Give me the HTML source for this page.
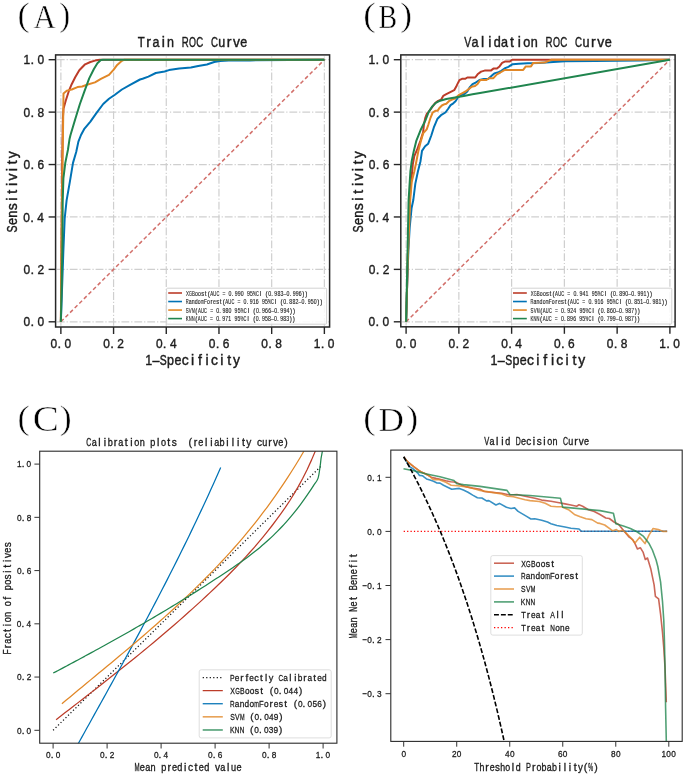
<!DOCTYPE html>
<html><head><meta charset="utf-8"><style>html,body{margin:0;padding:0;background:#fff;}svg{display:block;will-change:transform;}</style></head><body>
<svg width="685" height="776" viewBox="0 0 685 776" font-family='"Liberation Sans", sans-serif' style="font-variant-ligatures:none">
<rect width="685" height="776" fill="#fff"/>
<text transform="translate(17.59,26.1) scale(1.061,0.994)" font-family='"Liberation Serif", serif' font-size="34.5" fill="#000" stroke="#fff" stroke-width="0.5" paint-order="fill">(</text>
<text transform="translate(33.5,28.4) scale(0.896,0.970)" font-family='"Liberation Serif", serif' font-size="34.5" fill="#000" stroke="#fff" stroke-width="0.5" paint-order="fill">A</text>
<text transform="translate(59.23,26.1) scale(0.959,0.994)" font-family='"Liberation Serif", serif' font-size="34.5" fill="#000" stroke="#fff" stroke-width="0.5" paint-order="fill">)</text>
<clipPath id="c55"><rect x="55.6" y="54.9" width="274" height="272.1"/></clipPath>
<path d="M60.87 327 V54.9" stroke="#cfcfcf" stroke-width="1.2" stroke-dasharray="7.8 1.95 1.22 1.95" stroke-dashoffset="-1.25"/>
<path d="M55.6 321.8 H329.6" stroke="#cfcfcf" stroke-width="1.2" stroke-dasharray="7.8 1.95 1.22 1.95" stroke-dashoffset="-1.25"/>
<path d="M113.57 327 V54.9" stroke="#cfcfcf" stroke-width="1.2" stroke-dasharray="7.8 1.95 1.22 1.95" stroke-dashoffset="-1.25"/>
<path d="M55.6 269.38 H329.6" stroke="#cfcfcf" stroke-width="1.2" stroke-dasharray="7.8 1.95 1.22 1.95" stroke-dashoffset="-1.25"/>
<path d="M166.27 327 V54.9" stroke="#cfcfcf" stroke-width="1.2" stroke-dasharray="7.8 1.95 1.22 1.95" stroke-dashoffset="-1.25"/>
<path d="M55.6 216.96 H329.6" stroke="#cfcfcf" stroke-width="1.2" stroke-dasharray="7.8 1.95 1.22 1.95" stroke-dashoffset="-1.25"/>
<path d="M218.97 327 V54.9" stroke="#cfcfcf" stroke-width="1.2" stroke-dasharray="7.8 1.95 1.22 1.95" stroke-dashoffset="-1.25"/>
<path d="M55.6 164.54 H329.6" stroke="#cfcfcf" stroke-width="1.2" stroke-dasharray="7.8 1.95 1.22 1.95" stroke-dashoffset="-1.25"/>
<path d="M271.67 327 V54.9" stroke="#cfcfcf" stroke-width="1.2" stroke-dasharray="7.8 1.95 1.22 1.95" stroke-dashoffset="-1.25"/>
<path d="M55.6 112.12 H329.6" stroke="#cfcfcf" stroke-width="1.2" stroke-dasharray="7.8 1.95 1.22 1.95" stroke-dashoffset="-1.25"/>
<path d="M324.37 327 V54.9" stroke="#cfcfcf" stroke-width="1.2" stroke-dasharray="7.8 1.95 1.22 1.95" stroke-dashoffset="-1.25"/>
<path d="M55.6 59.7 H329.6" stroke="#cfcfcf" stroke-width="1.2" stroke-dasharray="7.8 1.95 1.22 1.95" stroke-dashoffset="-1.25"/>
<g clip-path="url(#c55)">
<path d="M60.87 321.8 L324.37 59.7" stroke="#D26F6A" stroke-width="1.5" stroke-dasharray="3.9 2.6" fill="none"/>
<path d="M60.87 321.8 L61.4 260 L62.2 160 L62.9 118 L63.5 108.7 L65.8 100.5 L68.8 91.2 L71.7 84.2 L75.2 77.2 L79.3 70.2 L85.1 64.3 L90.4 62 L95 60.6 L99.7 59.8 L324.4 59.8" fill="none" stroke="#BC3C29" stroke-width="2" stroke-linejoin="round" stroke-linecap="butt" />
<path d="M60.87 321.8 L62 290 L63.4 250 L64.7 218.3 L66.6 200.3 L69.8 182.2 L73 162.9 L76.2 152 L78.4 141.6 L81 135 L84.5 128.6 L90.4 121.6 L96.2 113.4 L103.2 104 L109 98.8 L114.9 94.7 L121.9 89.5 L130.1 84.8 L140 79.5 L142.6 78.8 L148.4 76.6 L155.8 73 L164.6 71.5 L169 70.1 L179.2 68.6 L190.9 67.6 L198.2 66 L206.9 64.5 L214.2 62 L220 61 L228.8 60.6 L250 60.4 L290 60.1 L324.4 59.8" fill="none" stroke="#0072B5" stroke-width="2" stroke-linejoin="round" stroke-linecap="butt" />
<path d="M60.87 321.8 L61.6 240 L62.6 160 L63.3 110 L63.5 93.5 L67 90.6 L71.7 89.5 L77.5 87.1 L82.2 86.5 L86.9 84.8 L95 82.4 L100.9 78.9 L109 74.9 L113.7 69.6 L117.2 64.9 L121.9 60.8 L124 59.8 L324.4 59.8" fill="none" stroke="#E18727" stroke-width="2" stroke-linejoin="round" stroke-linecap="butt" />
<path d="M60.87 321.8 L61.8 280 L62.5 240 L62.7 201.5 L63.4 178.4 L65.3 162.9 L67.9 150 L69.6 138.7 L70.5 135 L75.2 119.2 L79.9 104 L84.5 91.2 L89.2 78.4 L93.9 69 L97.4 63.2 L100.9 60.1 L103 59.8 L324.4 59.8" fill="none" stroke="#20854E" stroke-width="2" stroke-linejoin="round" stroke-linecap="butt" />
</g>
<rect x="166.6" y="288.2" width="160" height="36" rx="1" fill="#fff" fill-opacity="0.85" stroke="#d2d2d2" stroke-width="1.0"/>
<path d="M168.2 293 H182" stroke="#BC3C29" stroke-width="1.6"/>
<g fill="#2a2a2a" stroke="#2a2a2a" stroke-width="0.15" font-size="6.3"><text x="204.78 207.65 231.56 259.68 265.6 271.21 289.51 302.2 305.25" y="295.7">t(.I(..))</text><text transform="translate(185.9,295.7) scale(0.690,1)">X</text><text transform="translate(188.95,295.7) scale(0.591,1)">G</text><text transform="translate(192,295.7) scale(0.690,1)">B</text><text transform="translate(195.05,295.7) scale(0.827,1)">o</text><text transform="translate(198.1,295.7) scale(0.827,1)">o</text><text transform="translate(201.15,295.7) scale(0.920,1)">s</text><text transform="translate(210.3,295.7) scale(0.690,1)">A</text><text transform="translate(213.35,295.7) scale(0.637,1)">U</text><text transform="translate(216.4,295.7) scale(0.637,1)">C</text><text transform="translate(222.5,295.7) scale(0.788,1)">=</text><text transform="translate(228.6,295.7) scale(0.827,1)">0</text><text transform="translate(234.7,295.7) scale(0.827,1)">9</text><text transform="translate(237.75,295.7) scale(0.827,1)">9</text><text transform="translate(240.8,295.7) scale(0.827,1)">0</text><text transform="translate(246.9,295.7) scale(0.827,1)">9</text><text transform="translate(249.95,295.7) scale(0.827,1)">5</text><text transform="translate(253,295.7) scale(0.517,1)">%</text><text transform="translate(256.05,295.7) scale(0.637,1)">C</text><text transform="translate(268.25,295.7) scale(0.827,1)">0</text><text transform="translate(274.35,295.7) scale(0.827,1)">9</text><text transform="translate(277.4,295.7) scale(0.827,1)">8</text><text transform="translate(280.45,295.7) scale(0.827,1)">3</text><text transform="translate(283.5,295.7) scale(0.827,1)">–</text><text transform="translate(286.55,295.7) scale(0.827,1)">0</text><text transform="translate(292.65,295.7) scale(0.827,1)">9</text><text transform="translate(295.7,295.7) scale(0.827,1)">9</text><text transform="translate(298.75,295.7) scale(0.827,1)">6</text></g>
<path d="M168.2 301.53 H182" stroke="#0072B5" stroke-width="1.6"/>
<g fill="#2a2a2a" stroke="#2a2a2a" stroke-width="0.15" font-size="6.3"><text x="210.47 219.79 222.67 246.57 274.69 280.62 286.22 304.52 317.22 320.27" y="304.23">rt(.I(..))</text><text transform="translate(185.67,304.23) scale(0.637,1)">R</text><text transform="translate(188.72,304.23) scale(0.827,1)">a</text><text transform="translate(191.77,304.23) scale(0.827,1)">n</text><text transform="translate(194.82,304.23) scale(0.827,1)">d</text><text transform="translate(197.87,304.23) scale(0.827,1)">o</text><text transform="translate(200.92,304.23) scale(0.552,1)">m</text><text transform="translate(203.97,304.23) scale(0.753,1)">F</text><text transform="translate(207.02,304.23) scale(0.827,1)">o</text><text transform="translate(213.12,304.23) scale(0.827,1)">e</text><text transform="translate(216.17,304.23) scale(0.920,1)">s</text><text transform="translate(225.32,304.23) scale(0.690,1)">A</text><text transform="translate(228.37,304.23) scale(0.637,1)">U</text><text transform="translate(231.42,304.23) scale(0.637,1)">C</text><text transform="translate(237.52,304.23) scale(0.788,1)">=</text><text transform="translate(243.62,304.23) scale(0.827,1)">0</text><text transform="translate(249.72,304.23) scale(0.827,1)">9</text><text transform="translate(252.77,304.23) scale(0.827,1)">1</text><text transform="translate(255.82,304.23) scale(0.827,1)">6</text><text transform="translate(261.92,304.23) scale(0.827,1)">9</text><text transform="translate(264.97,304.23) scale(0.827,1)">5</text><text transform="translate(268.02,304.23) scale(0.517,1)">%</text><text transform="translate(271.07,304.23) scale(0.637,1)">C</text><text transform="translate(283.27,304.23) scale(0.827,1)">0</text><text transform="translate(289.37,304.23) scale(0.827,1)">8</text><text transform="translate(292.42,304.23) scale(0.827,1)">8</text><text transform="translate(295.47,304.23) scale(0.827,1)">2</text><text transform="translate(298.52,304.23) scale(0.827,1)">–</text><text transform="translate(301.57,304.23) scale(0.827,1)">0</text><text transform="translate(307.67,304.23) scale(0.827,1)">9</text><text transform="translate(310.72,304.23) scale(0.827,1)">5</text><text transform="translate(313.77,304.23) scale(0.827,1)">0</text></g>
<path d="M168.2 310.06 H182" stroke="#E18727" stroke-width="1.6"/>
<g fill="#2a2a2a" stroke="#2a2a2a" stroke-width="0.15" font-size="6.3"><text x="195.35 219.26 247.38 253.3 258.91 277.21 289.9 292.95" y="312.76">(.I(..))</text><text transform="translate(185.8,312.76) scale(0.690,1)">S</text><text transform="translate(188.85,312.76) scale(0.690,1)">V</text><text transform="translate(191.9,312.76) scale(0.552,1)">M</text><text transform="translate(198,312.76) scale(0.690,1)">A</text><text transform="translate(201.05,312.76) scale(0.637,1)">U</text><text transform="translate(204.1,312.76) scale(0.637,1)">C</text><text transform="translate(210.2,312.76) scale(0.788,1)">=</text><text transform="translate(216.3,312.76) scale(0.827,1)">0</text><text transform="translate(222.4,312.76) scale(0.827,1)">9</text><text transform="translate(225.45,312.76) scale(0.827,1)">8</text><text transform="translate(228.5,312.76) scale(0.827,1)">0</text><text transform="translate(234.6,312.76) scale(0.827,1)">9</text><text transform="translate(237.65,312.76) scale(0.827,1)">5</text><text transform="translate(240.7,312.76) scale(0.517,1)">%</text><text transform="translate(243.75,312.76) scale(0.637,1)">C</text><text transform="translate(255.95,312.76) scale(0.827,1)">0</text><text transform="translate(262.05,312.76) scale(0.827,1)">9</text><text transform="translate(265.1,312.76) scale(0.827,1)">6</text><text transform="translate(268.15,312.76) scale(0.827,1)">6</text><text transform="translate(271.2,312.76) scale(0.827,1)">–</text><text transform="translate(274.25,312.76) scale(0.827,1)">0</text><text transform="translate(280.35,312.76) scale(0.827,1)">9</text><text transform="translate(283.4,312.76) scale(0.827,1)">9</text><text transform="translate(286.45,312.76) scale(0.827,1)">4</text></g>
<path d="M168.2 318.59 H182" stroke="#20854E" stroke-width="1.6"/>
<g fill="#2a2a2a" stroke="#2a2a2a" stroke-width="0.15" font-size="6.3"><text x="195.19 219.1 247.22 253.14 258.75 277.05 289.74 292.79" y="321.29">(.I(..))</text><text transform="translate(185.64,321.29) scale(0.690,1)">K</text><text transform="translate(188.69,321.29) scale(0.637,1)">N</text><text transform="translate(191.74,321.29) scale(0.637,1)">N</text><text transform="translate(197.84,321.29) scale(0.690,1)">A</text><text transform="translate(200.89,321.29) scale(0.637,1)">U</text><text transform="translate(203.94,321.29) scale(0.637,1)">C</text><text transform="translate(210.04,321.29) scale(0.788,1)">=</text><text transform="translate(216.14,321.29) scale(0.827,1)">0</text><text transform="translate(222.24,321.29) scale(0.827,1)">9</text><text transform="translate(225.29,321.29) scale(0.827,1)">7</text><text transform="translate(228.34,321.29) scale(0.827,1)">1</text><text transform="translate(234.44,321.29) scale(0.827,1)">9</text><text transform="translate(237.49,321.29) scale(0.827,1)">5</text><text transform="translate(240.54,321.29) scale(0.517,1)">%</text><text transform="translate(243.59,321.29) scale(0.637,1)">C</text><text transform="translate(255.79,321.29) scale(0.827,1)">0</text><text transform="translate(261.89,321.29) scale(0.827,1)">9</text><text transform="translate(264.94,321.29) scale(0.827,1)">5</text><text transform="translate(267.99,321.29) scale(0.827,1)">8</text><text transform="translate(271.04,321.29) scale(0.827,1)">–</text><text transform="translate(274.09,321.29) scale(0.827,1)">0</text><text transform="translate(280.19,321.29) scale(0.827,1)">9</text><text transform="translate(283.24,321.29) scale(0.827,1)">8</text><text transform="translate(286.29,321.29) scale(0.827,1)">3</text></g>
<rect x="55.6" y="54.9" width="274" height="272.1" fill="none" stroke="#262626" stroke-width="1.5"/>
<path d="M60.87 327 V334" stroke="#262626" stroke-width="1.4"/>
<path d="M55.6 321.8 H48.6" stroke="#262626" stroke-width="1.4"/>
<g fill="#1c1c1c" stroke="#1c1c1c" stroke-width="0.39" font-size="13.1"><text x="30.38" y="326.4">.</text><text transform="translate(23.42,326.4) scale(0.913,1)">0</text><text transform="translate(37.42,326.4) scale(0.913,1)">0</text></g>
<g fill="#1c1c1c" stroke="#1c1c1c" stroke-width="0.39" font-size="13.1"><text x="57.51" y="348.3">.</text><text transform="translate(50.54,348.3) scale(0.913,1)">0</text><text transform="translate(64.55,348.3) scale(0.913,1)">0</text></g>
<path d="M113.57 327 V334" stroke="#262626" stroke-width="1.4"/>
<path d="M55.6 269.38 H48.6" stroke="#262626" stroke-width="1.4"/>
<g fill="#1c1c1c" stroke="#1c1c1c" stroke-width="0.39" font-size="13.1"><text x="30.52" y="273.98">.</text><text transform="translate(23.55,273.98) scale(0.913,1)">0</text><text transform="translate(37.55,273.98) scale(0.913,1)">2</text></g>
<g fill="#1c1c1c" stroke="#1c1c1c" stroke-width="0.39" font-size="13.1"><text x="110.28" y="348.3">.</text><text transform="translate(103.31,348.3) scale(0.913,1)">0</text><text transform="translate(117.31,348.3) scale(0.913,1)">2</text></g>
<path d="M166.27 327 V334" stroke="#262626" stroke-width="1.4"/>
<path d="M55.6 216.96 H48.6" stroke="#262626" stroke-width="1.4"/>
<g fill="#1c1c1c" stroke="#1c1c1c" stroke-width="0.39" font-size="13.1"><text x="30.27" y="221.56">.</text><text transform="translate(23.3,221.56) scale(0.913,1)">0</text><text transform="translate(37.3,221.56) scale(0.913,1)">4</text></g>
<g fill="#1c1c1c" stroke="#1c1c1c" stroke-width="0.39" font-size="13.1"><text x="162.85" y="348.3">.</text><text transform="translate(155.89,348.3) scale(0.913,1)">0</text><text transform="translate(169.89,348.3) scale(0.913,1)">4</text></g>
<path d="M218.97 327 V334" stroke="#262626" stroke-width="1.4"/>
<path d="M55.6 164.54 H48.6" stroke="#262626" stroke-width="1.4"/>
<g fill="#1c1c1c" stroke="#1c1c1c" stroke-width="0.39" font-size="13.1"><text x="30.44" y="169.14">.</text><text transform="translate(23.48,169.14) scale(0.913,1)">0</text><text transform="translate(37.48,169.14) scale(0.913,1)">6</text></g>
<g fill="#1c1c1c" stroke="#1c1c1c" stroke-width="0.39" font-size="13.1"><text x="215.64" y="348.3">.</text><text transform="translate(208.67,348.3) scale(0.913,1)">0</text><text transform="translate(222.67,348.3) scale(0.913,1)">6</text></g>
<path d="M271.67 327 V334" stroke="#262626" stroke-width="1.4"/>
<path d="M55.6 112.12 H48.6" stroke="#262626" stroke-width="1.4"/>
<g fill="#1c1c1c" stroke="#1c1c1c" stroke-width="0.39" font-size="13.1"><text x="30.43" y="116.72">.</text><text transform="translate(23.47,116.72) scale(0.913,1)">0</text><text transform="translate(37.47,116.72) scale(0.913,1)">8</text></g>
<g fill="#1c1c1c" stroke="#1c1c1c" stroke-width="0.39" font-size="13.1"><text x="268.34" y="348.3">.</text><text transform="translate(261.37,348.3) scale(0.913,1)">0</text><text transform="translate(275.37,348.3) scale(0.913,1)">8</text></g>
<path d="M324.37 327 V334" stroke="#262626" stroke-width="1.4"/>
<path d="M55.6 59.7 H48.6" stroke="#262626" stroke-width="1.4"/>
<g fill="#1c1c1c" stroke="#1c1c1c" stroke-width="0.39" font-size="13.1"><text x="30.38" y="64.3">.</text><text transform="translate(23.42,64.3) scale(0.913,1)">1</text><text transform="translate(37.42,64.3) scale(0.913,1)">0</text></g>
<g fill="#1c1c1c" stroke="#1c1c1c" stroke-width="0.39" font-size="13.1"><text x="320.79" y="348.3">.</text><text transform="translate(313.82,348.3) scale(0.913,1)">1</text><text transform="translate(327.82,348.3) scale(0.913,1)">0</text></g>
<g fill="#1c1c1c" stroke="#1c1c1c" stroke-width="0.42" font-size="14.1"><text x="146.2 161.63 226.78" y="46.7">rir</text><text transform="translate(137.74,46.7) scale(0.808,1)">T</text><text transform="translate(152.39,46.7) scale(0.887,1)">a</text><text transform="translate(167.04,46.7) scale(0.887,1)">n</text><text transform="translate(181.7,46.7) scale(0.683,1)">R</text><text transform="translate(189.02,46.7) scale(0.635,1)">O</text><text transform="translate(196.35,46.7) scale(0.683,1)">C</text><text transform="translate(211,46.7) scale(0.683,1)">C</text><text transform="translate(218.32,46.7) scale(0.887,1)">u</text><text transform="translate(232.97,46.7) scale(0.987,1)">v</text><text transform="translate(240.3,46.7) scale(0.887,1)">e</text></g>
<g fill="#1c1c1c" stroke="#1c1c1c" stroke-width="0.42" font-size="14.1"><text x="190.97 197.9 205.61 220.25 227.17" y="364.6">ifiit</text><text transform="translate(145.15,364.6) scale(0.887,1)">1</text><text transform="translate(152.47,364.6) scale(0.887,1)">–</text><text transform="translate(159.79,364.6) scale(0.739,1)">S</text><text transform="translate(167.1,364.6) scale(0.887,1)">p</text><text transform="translate(174.42,364.6) scale(0.887,1)">e</text><text transform="translate(181.74,364.6) scale(0.986,1)">c</text><text transform="translate(211.02,364.6) scale(0.986,1)">c</text><text transform="translate(232.97,364.6) scale(0.986,1)">y</text></g>
<g transform="translate(17.4,0) rotate(-90)" fill="#1c1c1c" stroke="#1c1c1c" stroke-width="0.42" font-size="14.1"><text x="-200.86 -193.83 -186.03 -171.19 -164.17" y="0">itiit</text><text transform="translate(-232.48,0) scale(0.749,1)">S</text><text transform="translate(-225.06,0) scale(0.898,1)">e</text><text transform="translate(-217.65,0) scale(0.898,1)">n</text><text transform="translate(-210.23,0) scale(0.999,1)">s</text><text transform="translate(-180.57,0) scale(0.999,1)">v</text><text transform="translate(-158.32,0) scale(0.999,1)">y</text></g>
<text transform="translate(363.16,26.1) scale(1.083,0.994)" font-family='"Liberation Serif", serif' font-size="34.5" fill="#000" stroke="#fff" stroke-width="0.5" paint-order="fill">(</text>
<text transform="translate(378.59,28.3) scale(0.811,0.987)" font-family='"Liberation Serif", serif' font-size="34.5" fill="#000" stroke="#fff" stroke-width="0.5" paint-order="fill">B</text>
<text transform="translate(400.36,26.1) scale(1.027,0.994)" font-family='"Liberation Serif", serif' font-size="34.5" fill="#000" stroke="#fff" stroke-width="0.5" paint-order="fill">)</text>
<clipPath id="c400"><rect x="400.8" y="54.9" width="274.3" height="271.9"/></clipPath>
<path d="M406.1 326.8 V54.9" stroke="#cfcfcf" stroke-width="1.2" stroke-dasharray="7.8 1.95 1.22 1.95" stroke-dashoffset="-1.25"/>
<path d="M400.8 321.8 H675.1" stroke="#cfcfcf" stroke-width="1.2" stroke-dasharray="7.8 1.95 1.22 1.95" stroke-dashoffset="-1.25"/>
<path d="M458.86 326.8 V54.9" stroke="#cfcfcf" stroke-width="1.2" stroke-dasharray="7.8 1.95 1.22 1.95" stroke-dashoffset="-1.25"/>
<path d="M400.8 269.38 H675.1" stroke="#cfcfcf" stroke-width="1.2" stroke-dasharray="7.8 1.95 1.22 1.95" stroke-dashoffset="-1.25"/>
<path d="M511.62 326.8 V54.9" stroke="#cfcfcf" stroke-width="1.2" stroke-dasharray="7.8 1.95 1.22 1.95" stroke-dashoffset="-1.25"/>
<path d="M400.8 216.96 H675.1" stroke="#cfcfcf" stroke-width="1.2" stroke-dasharray="7.8 1.95 1.22 1.95" stroke-dashoffset="-1.25"/>
<path d="M564.38 326.8 V54.9" stroke="#cfcfcf" stroke-width="1.2" stroke-dasharray="7.8 1.95 1.22 1.95" stroke-dashoffset="-1.25"/>
<path d="M400.8 164.54 H675.1" stroke="#cfcfcf" stroke-width="1.2" stroke-dasharray="7.8 1.95 1.22 1.95" stroke-dashoffset="-1.25"/>
<path d="M617.14 326.8 V54.9" stroke="#cfcfcf" stroke-width="1.2" stroke-dasharray="7.8 1.95 1.22 1.95" stroke-dashoffset="-1.25"/>
<path d="M400.8 112.12 H675.1" stroke="#cfcfcf" stroke-width="1.2" stroke-dasharray="7.8 1.95 1.22 1.95" stroke-dashoffset="-1.25"/>
<path d="M669.9 326.8 V54.9" stroke="#cfcfcf" stroke-width="1.2" stroke-dasharray="7.8 1.95 1.22 1.95" stroke-dashoffset="-1.25"/>
<path d="M400.8 59.7 H675.1" stroke="#cfcfcf" stroke-width="1.2" stroke-dasharray="7.8 1.95 1.22 1.95" stroke-dashoffset="-1.25"/>
<g clip-path="url(#c400)">
<path d="M406.1 321.8 L669.9 59.7" stroke="#D26F6A" stroke-width="1.5" stroke-dasharray="3.9 2.6" fill="none"/>
<path d="M406.1 321.8 L407 290 L408 250 L409.7 200 L411.2 181.9 L412.8 164.3 L414.3 156.1 L417.4 148.9 L420.5 140.6 L423.1 132.4 L423.9 124.8 L425.3 117.8 L427 113.4 L428.8 111.7 L431.4 108.2 L434.9 103.3 L437.5 101.2 L441 99.8 L443.2 95.9 L446.3 94.2 L449.8 92.4 L454.2 90.2 L456.8 85.4 L459.4 80.1 L462 78.8 L465.1 78.8 L467.3 77.5 L475.2 77.5 L477.6 74.3 L481.1 71.6 L484.6 70.6 L490.8 70.6 L493.4 68.6 L496.9 68.6 L499.5 66.4 L502.1 62.9 L504.8 61.6 L509.6 61.6 L512.2 59.8 L669.9 59.8" fill="none" stroke="#BC3C29" stroke-width="2" stroke-linejoin="round" stroke-linecap="butt" />
<path d="M406.1 321.8 L407.3 280 L408.4 250 L409.7 227.3 L411.6 208 L413.3 200 L415.3 183.9 L417.9 171.5 L420.5 161.2 L422 150.9 L425.1 146.3 L428.2 143.7 L431.3 135.5 L433.9 127.2 L434.9 124.8 L437.5 118.7 L441 115.2 L445.4 112.5 L448 109 L450.6 105.1 L453.3 103.3 L455.5 101.2 L457.7 97.7 L461.2 95 L464.7 93.7 L467.3 91.5 L469.9 87.1 L472.5 84.1 L475 83 L479.4 80 L483.8 79.1 L488.1 79.1 L492.5 75.1 L494.3 73.4 L498.6 72.1 L501.3 70.8 L505.2 68.1 L508.3 66.8 L512.7 64.2 L518.8 63.8 L527.5 63.3 L538.8 63 L553.4 62 L565.1 61.3 L595 61 L640 60.4 L669.9 59.8" fill="none" stroke="#0072B5" stroke-width="2" stroke-linejoin="round" stroke-linecap="butt" />
<path d="M406.1 321.8 L407.8 260 L410.2 200 L411.7 181.9 L414.3 171.5 L416.4 161.2 L418.4 150.9 L421 140.6 L423.1 133.4 L426.7 129.3 L428.3 124.8 L430.5 117.8 L432.7 112.5 L435.3 110.8 L437.5 110.8 L439.7 107.7 L441.9 105.5 L444.5 104.2 L446.3 103.8 L448.9 101.2 L451.5 99.8 L455 98.5 L459.4 94.6 L462 93.3 L465.5 91.5 L469 88.9 L471.7 86.7 L475 86.1 L477.6 83.9 L480.3 80 L486.4 80 L489 78.2 L493.4 78.2 L496.9 74.3 L500.4 72.5 L504.8 69.9 L523.2 69.9 L525.8 66.4 L531 66.4 L533.2 62.9 L544.6 62.6 L547.6 61.3 L551.2 59.8 L669.9 59.8" fill="none" stroke="#E18727" stroke-width="2" stroke-linejoin="round" stroke-linecap="butt" />
<path d="M406.1 321.8 L407 280 L407.8 240 L408.6 200 L409.4 187 L410.4 171.5 L411.7 161.2 L413.8 150.9 L416.4 140.6 L420.5 130.3 L425.6 120 L428.8 111.7 L432.3 106.4 L435.8 102.9 L440.1 100.7 L446.3 99 L455 97.5 L463.8 95.9 L472.5 94.3 L480 93.1 L669.9 59.8" fill="none" stroke="#20854E" stroke-width="2" stroke-linejoin="round" stroke-linecap="butt" />
</g>
<rect x="511.4" y="288.2" width="160.4" height="35.8" rx="1" fill="#fff" fill-opacity="0.85" stroke="#d2d2d2" stroke-width="1.0"/>
<path d="M513 293 H526.8" stroke="#BC3C29" stroke-width="1.6"/>
<g fill="#2a2a2a" stroke="#2a2a2a" stroke-width="0.15" font-size="6.3"><text x="549.58 552.45 576.36 604.48 610.4 616.01 634.31 647 650.05" y="295.7">t(.I(..))</text><text transform="translate(530.7,295.7) scale(0.690,1)">X</text><text transform="translate(533.75,295.7) scale(0.591,1)">G</text><text transform="translate(536.8,295.7) scale(0.690,1)">B</text><text transform="translate(539.85,295.7) scale(0.827,1)">o</text><text transform="translate(542.9,295.7) scale(0.827,1)">o</text><text transform="translate(545.95,295.7) scale(0.920,1)">s</text><text transform="translate(555.1,295.7) scale(0.690,1)">A</text><text transform="translate(558.15,295.7) scale(0.637,1)">U</text><text transform="translate(561.2,295.7) scale(0.637,1)">C</text><text transform="translate(567.3,295.7) scale(0.788,1)">=</text><text transform="translate(573.4,295.7) scale(0.827,1)">0</text><text transform="translate(579.5,295.7) scale(0.827,1)">9</text><text transform="translate(582.55,295.7) scale(0.827,1)">4</text><text transform="translate(585.6,295.7) scale(0.827,1)">1</text><text transform="translate(591.7,295.7) scale(0.827,1)">9</text><text transform="translate(594.75,295.7) scale(0.827,1)">5</text><text transform="translate(597.8,295.7) scale(0.517,1)">%</text><text transform="translate(600.85,295.7) scale(0.637,1)">C</text><text transform="translate(613.05,295.7) scale(0.827,1)">0</text><text transform="translate(619.15,295.7) scale(0.827,1)">8</text><text transform="translate(622.2,295.7) scale(0.827,1)">9</text><text transform="translate(625.25,295.7) scale(0.827,1)">0</text><text transform="translate(628.3,295.7) scale(0.827,1)">–</text><text transform="translate(631.35,295.7) scale(0.827,1)">0</text><text transform="translate(637.45,295.7) scale(0.827,1)">9</text><text transform="translate(640.5,295.7) scale(0.827,1)">9</text><text transform="translate(643.55,295.7) scale(0.827,1)">1</text></g>
<path d="M513 301.53 H526.8" stroke="#0072B5" stroke-width="1.6"/>
<g fill="#2a2a2a" stroke="#2a2a2a" stroke-width="0.15" font-size="6.3"><text x="555.27 564.59 567.47 591.37 619.49 625.42 631.02 649.32 662.02 665.07" y="304.23">rt(.I(..))</text><text transform="translate(530.47,304.23) scale(0.637,1)">R</text><text transform="translate(533.52,304.23) scale(0.827,1)">a</text><text transform="translate(536.57,304.23) scale(0.827,1)">n</text><text transform="translate(539.62,304.23) scale(0.827,1)">d</text><text transform="translate(542.67,304.23) scale(0.827,1)">o</text><text transform="translate(545.72,304.23) scale(0.552,1)">m</text><text transform="translate(548.77,304.23) scale(0.753,1)">F</text><text transform="translate(551.82,304.23) scale(0.827,1)">o</text><text transform="translate(557.92,304.23) scale(0.827,1)">e</text><text transform="translate(560.97,304.23) scale(0.920,1)">s</text><text transform="translate(570.12,304.23) scale(0.690,1)">A</text><text transform="translate(573.17,304.23) scale(0.637,1)">U</text><text transform="translate(576.22,304.23) scale(0.637,1)">C</text><text transform="translate(582.32,304.23) scale(0.788,1)">=</text><text transform="translate(588.42,304.23) scale(0.827,1)">0</text><text transform="translate(594.52,304.23) scale(0.827,1)">9</text><text transform="translate(597.57,304.23) scale(0.827,1)">1</text><text transform="translate(600.62,304.23) scale(0.827,1)">6</text><text transform="translate(606.72,304.23) scale(0.827,1)">9</text><text transform="translate(609.77,304.23) scale(0.827,1)">5</text><text transform="translate(612.82,304.23) scale(0.517,1)">%</text><text transform="translate(615.87,304.23) scale(0.637,1)">C</text><text transform="translate(628.07,304.23) scale(0.827,1)">0</text><text transform="translate(634.17,304.23) scale(0.827,1)">8</text><text transform="translate(637.22,304.23) scale(0.827,1)">5</text><text transform="translate(640.27,304.23) scale(0.827,1)">1</text><text transform="translate(643.32,304.23) scale(0.827,1)">–</text><text transform="translate(646.37,304.23) scale(0.827,1)">0</text><text transform="translate(652.47,304.23) scale(0.827,1)">9</text><text transform="translate(655.52,304.23) scale(0.827,1)">8</text><text transform="translate(658.57,304.23) scale(0.827,1)">1</text></g>
<path d="M513 310.06 H526.8" stroke="#E18727" stroke-width="1.6"/>
<g fill="#2a2a2a" stroke="#2a2a2a" stroke-width="0.15" font-size="6.3"><text x="540.15 564.06 592.18 598.1 603.71 622.01 634.7 637.75" y="312.76">(.I(..))</text><text transform="translate(530.6,312.76) scale(0.690,1)">S</text><text transform="translate(533.65,312.76) scale(0.690,1)">V</text><text transform="translate(536.7,312.76) scale(0.552,1)">M</text><text transform="translate(542.8,312.76) scale(0.690,1)">A</text><text transform="translate(545.85,312.76) scale(0.637,1)">U</text><text transform="translate(548.9,312.76) scale(0.637,1)">C</text><text transform="translate(555,312.76) scale(0.788,1)">=</text><text transform="translate(561.1,312.76) scale(0.827,1)">0</text><text transform="translate(567.2,312.76) scale(0.827,1)">9</text><text transform="translate(570.25,312.76) scale(0.827,1)">2</text><text transform="translate(573.3,312.76) scale(0.827,1)">4</text><text transform="translate(579.4,312.76) scale(0.827,1)">9</text><text transform="translate(582.45,312.76) scale(0.827,1)">5</text><text transform="translate(585.5,312.76) scale(0.517,1)">%</text><text transform="translate(588.55,312.76) scale(0.637,1)">C</text><text transform="translate(600.75,312.76) scale(0.827,1)">0</text><text transform="translate(606.85,312.76) scale(0.827,1)">8</text><text transform="translate(609.9,312.76) scale(0.827,1)">6</text><text transform="translate(612.95,312.76) scale(0.827,1)">0</text><text transform="translate(616,312.76) scale(0.827,1)">–</text><text transform="translate(619.05,312.76) scale(0.827,1)">0</text><text transform="translate(625.15,312.76) scale(0.827,1)">9</text><text transform="translate(628.2,312.76) scale(0.827,1)">8</text><text transform="translate(631.25,312.76) scale(0.827,1)">7</text></g>
<path d="M513 318.59 H526.8" stroke="#20854E" stroke-width="1.6"/>
<g fill="#2a2a2a" stroke="#2a2a2a" stroke-width="0.15" font-size="6.3"><text x="539.99 563.9 592.02 597.94 603.55 621.85 634.54 637.59" y="321.29">(.I(..))</text><text transform="translate(530.44,321.29) scale(0.690,1)">K</text><text transform="translate(533.49,321.29) scale(0.637,1)">N</text><text transform="translate(536.54,321.29) scale(0.637,1)">N</text><text transform="translate(542.64,321.29) scale(0.690,1)">A</text><text transform="translate(545.69,321.29) scale(0.637,1)">U</text><text transform="translate(548.74,321.29) scale(0.637,1)">C</text><text transform="translate(554.84,321.29) scale(0.788,1)">=</text><text transform="translate(560.94,321.29) scale(0.827,1)">0</text><text transform="translate(567.04,321.29) scale(0.827,1)">8</text><text transform="translate(570.09,321.29) scale(0.827,1)">9</text><text transform="translate(573.14,321.29) scale(0.827,1)">6</text><text transform="translate(579.24,321.29) scale(0.827,1)">9</text><text transform="translate(582.29,321.29) scale(0.827,1)">5</text><text transform="translate(585.34,321.29) scale(0.517,1)">%</text><text transform="translate(588.39,321.29) scale(0.637,1)">C</text><text transform="translate(600.59,321.29) scale(0.827,1)">0</text><text transform="translate(606.69,321.29) scale(0.827,1)">7</text><text transform="translate(609.74,321.29) scale(0.827,1)">9</text><text transform="translate(612.79,321.29) scale(0.827,1)">9</text><text transform="translate(615.84,321.29) scale(0.827,1)">–</text><text transform="translate(618.89,321.29) scale(0.827,1)">0</text><text transform="translate(624.99,321.29) scale(0.827,1)">9</text><text transform="translate(628.04,321.29) scale(0.827,1)">8</text><text transform="translate(631.09,321.29) scale(0.827,1)">7</text></g>
<rect x="400.8" y="54.9" width="274.3" height="271.9" fill="none" stroke="#262626" stroke-width="1.5"/>
<path d="M406.1 326.8 V333.8" stroke="#262626" stroke-width="1.4"/>
<path d="M400.8 321.8 H393.8" stroke="#262626" stroke-width="1.4"/>
<g fill="#1c1c1c" stroke="#1c1c1c" stroke-width="0.39" font-size="13.1"><text x="375.58" y="326.4">.</text><text transform="translate(368.62,326.4) scale(0.913,1)">0</text><text transform="translate(382.62,326.4) scale(0.913,1)">0</text></g>
<g fill="#1c1c1c" stroke="#1c1c1c" stroke-width="0.39" font-size="13.1"><text x="402.74" y="348.3">.</text><text transform="translate(395.78,348.3) scale(0.913,1)">0</text><text transform="translate(409.78,348.3) scale(0.913,1)">0</text></g>
<path d="M458.86 326.8 V333.8" stroke="#262626" stroke-width="1.4"/>
<path d="M400.8 269.38 H393.8" stroke="#262626" stroke-width="1.4"/>
<g fill="#1c1c1c" stroke="#1c1c1c" stroke-width="0.39" font-size="13.1"><text x="375.72" y="273.98">.</text><text transform="translate(368.75,273.98) scale(0.913,1)">0</text><text transform="translate(382.75,273.98) scale(0.913,1)">2</text></g>
<g fill="#1c1c1c" stroke="#1c1c1c" stroke-width="0.39" font-size="13.1"><text x="455.57" y="348.3">.</text><text transform="translate(448.6,348.3) scale(0.913,1)">0</text><text transform="translate(462.6,348.3) scale(0.913,1)">2</text></g>
<path d="M511.62 326.8 V333.8" stroke="#262626" stroke-width="1.4"/>
<path d="M400.8 216.96 H393.8" stroke="#262626" stroke-width="1.4"/>
<g fill="#1c1c1c" stroke="#1c1c1c" stroke-width="0.39" font-size="13.1"><text x="375.47" y="221.56">.</text><text transform="translate(368.5,221.56) scale(0.913,1)">0</text><text transform="translate(382.5,221.56) scale(0.913,1)">4</text></g>
<g fill="#1c1c1c" stroke="#1c1c1c" stroke-width="0.39" font-size="13.1"><text x="508.2" y="348.3">.</text><text transform="translate(501.24,348.3) scale(0.913,1)">0</text><text transform="translate(515.24,348.3) scale(0.913,1)">4</text></g>
<path d="M564.38 326.8 V333.8" stroke="#262626" stroke-width="1.4"/>
<path d="M400.8 164.54 H393.8" stroke="#262626" stroke-width="1.4"/>
<g fill="#1c1c1c" stroke="#1c1c1c" stroke-width="0.39" font-size="13.1"><text x="375.64" y="169.14">.</text><text transform="translate(368.68,169.14) scale(0.913,1)">0</text><text transform="translate(382.68,169.14) scale(0.913,1)">6</text></g>
<g fill="#1c1c1c" stroke="#1c1c1c" stroke-width="0.39" font-size="13.1"><text x="561.05" y="348.3">.</text><text transform="translate(554.08,348.3) scale(0.913,1)">0</text><text transform="translate(568.08,348.3) scale(0.913,1)">6</text></g>
<path d="M617.14 326.8 V333.8" stroke="#262626" stroke-width="1.4"/>
<path d="M400.8 112.12 H393.8" stroke="#262626" stroke-width="1.4"/>
<g fill="#1c1c1c" stroke="#1c1c1c" stroke-width="0.39" font-size="13.1"><text x="375.63" y="116.72">.</text><text transform="translate(368.67,116.72) scale(0.913,1)">0</text><text transform="translate(382.67,116.72) scale(0.913,1)">8</text></g>
<g fill="#1c1c1c" stroke="#1c1c1c" stroke-width="0.39" font-size="13.1"><text x="613.81" y="348.3">.</text><text transform="translate(606.84,348.3) scale(0.913,1)">0</text><text transform="translate(620.84,348.3) scale(0.913,1)">8</text></g>
<path d="M669.9 326.8 V333.8" stroke="#262626" stroke-width="1.4"/>
<path d="M400.8 59.7 H393.8" stroke="#262626" stroke-width="1.4"/>
<g fill="#1c1c1c" stroke="#1c1c1c" stroke-width="0.39" font-size="13.1"><text x="375.58" y="64.3">.</text><text transform="translate(368.62,64.3) scale(0.913,1)">1</text><text transform="translate(382.62,64.3) scale(0.913,1)">0</text></g>
<g fill="#1c1c1c" stroke="#1c1c1c" stroke-width="0.39" font-size="13.1"><text x="666.32" y="348.3">.</text><text transform="translate(659.35,348.3) scale(0.913,1)">1</text><text transform="translate(673.35,348.3) scale(0.913,1)">0</text></g>
<g fill="#1c1c1c" stroke="#1c1c1c" stroke-width="0.42" font-size="14.1"><text x="480.89 488.28 510.07 517.86 591.01" y="46.9">litir</text><text transform="translate(464.15,46.9) scale(0.747,1)">V</text><text transform="translate(471.55,46.9) scale(0.896,1)">a</text><text transform="translate(493.73,46.9) scale(0.896,1)">d</text><text transform="translate(501.12,46.9) scale(0.896,1)">a</text><text transform="translate(523.3,46.9) scale(0.896,1)">o</text><text transform="translate(530.7,46.9) scale(0.896,1)">n</text><text transform="translate(545.49,46.9) scale(0.690,1)">R</text><text transform="translate(552.88,46.9) scale(0.640,1)">O</text><text transform="translate(560.27,46.9) scale(0.690,1)">C</text><text transform="translate(575.06,46.9) scale(0.690,1)">C</text><text transform="translate(582.46,46.9) scale(0.896,1)">u</text><text transform="translate(597.24,46.9) scale(0.996,1)">v</text><text transform="translate(604.64,46.9) scale(0.896,1)">e</text></g>
<g fill="#1c1c1c" stroke="#1c1c1c" stroke-width="0.42" font-size="14.1"><text x="536.32 543.25 550.96 565.6 572.52" y="364.6">ifiit</text><text transform="translate(490.5,364.6) scale(0.887,1)">1</text><text transform="translate(497.82,364.6) scale(0.887,1)">–</text><text transform="translate(505.14,364.6) scale(0.739,1)">S</text><text transform="translate(512.45,364.6) scale(0.887,1)">p</text><text transform="translate(519.77,364.6) scale(0.887,1)">e</text><text transform="translate(527.09,364.6) scale(0.986,1)">c</text><text transform="translate(556.37,364.6) scale(0.986,1)">c</text><text transform="translate(578.32,364.6) scale(0.986,1)">y</text></g>
<g transform="translate(362.6,0) rotate(-90)" fill="#1c1c1c" stroke="#1c1c1c" stroke-width="0.42" font-size="14.1"><text x="-200.86 -193.83 -186.03 -171.19 -164.17" y="0">itiit</text><text transform="translate(-232.48,0) scale(0.749,1)">S</text><text transform="translate(-225.06,0) scale(0.898,1)">e</text><text transform="translate(-217.65,0) scale(0.898,1)">n</text><text transform="translate(-210.23,0) scale(0.999,1)">s</text><text transform="translate(-180.57,0) scale(0.999,1)">v</text><text transform="translate(-158.32,0) scale(0.999,1)">y</text></g>
<text transform="translate(17.59,428.75) scale(1.061,0.988)" font-family='"Liberation Serif", serif' font-size="34.5" fill="#000" stroke="#fff" stroke-width="0.5" paint-order="fill">(</text>
<text transform="translate(32.8,431.36) scale(1.132,1.018)" font-family='"Liberation Serif", serif' font-size="34.5" fill="#000" stroke="#fff" stroke-width="0.5" paint-order="fill">C</text>
<text transform="translate(59.65,428.75) scale(1.038,0.988)" font-family='"Liberation Serif", serif' font-size="34.5" fill="#000" stroke="#fff" stroke-width="0.5" paint-order="fill">)</text>
<clipPath id="cc"><rect x="39.7" y="451.2" width="297.2" height="292"/></clipPath>
<g clip-path="url(#cc)">
<path d="M53.1 730.3 L321.75 465.43" stroke="#111" stroke-width="1.25" stroke-dasharray="1.2 2.3" fill="none"/>
<path d="M56.1 719.64 L60.51 716.24 L64.91 712.84 L69.32 709.44 L73.72 706.04 L78.13 702.63 L82.53 699.22 L86.94 695.8 L91.34 692.38 L95.75 688.95 L100.15 685.51 L104.56 682.05 L108.96 678.59 L113.37 675.11 L117.77 671.61 L122.18 668.1 L126.58 664.57 L130.99 661.02 L135.39 657.46 L139.8 653.87 L144.2 650.25 L148.61 646.62 L153.01 642.95 L157.42 639.26 L161.82 635.55 L166.23 631.8 L170.63 628.02 L175.04 624.21 L179.44 620.37 L183.85 616.49 L188.25 612.57 L192.66 608.62 L197.06 604.63 L201.47 600.6 L205.87 596.53 L210.28 592.41 L214.68 588.25 L219.09 584.04 L223.49 579.77 L227.9 575.43 L232.3 571.01 L236.71 566.49 L241.11 561.87 L245.52 557.14 L249.92 552.28 L254.33 547.29 L258.73 542.15 L263.14 536.85 L267.54 531.39 L271.95 525.75 L276.35 519.92 L280.76 513.88 L285.16 507.6 L289.57 500.98 L293.97 493.94 L298.38 486.39 L302.78 478.26 L307.19 469.45 L311.59 459.88 L316 449.47" fill="none" stroke="#BC3C29" stroke-width="1.25" stroke-linejoin="round" stroke-linecap="butt" />
<path d="M77 745.93 L79.44 741.52 L81.87 737.12 L84.31 732.72 L86.74 728.32 L89.18 723.93 L91.61 719.54 L94.05 715.15 L96.48 710.76 L98.92 706.37 L101.36 701.98 L103.79 697.59 L106.23 693.19 L108.66 688.79 L111.1 684.39 L113.53 679.98 L115.97 675.56 L118.41 671.14 L120.84 666.71 L123.28 662.27 L125.71 657.82 L128.15 653.35 L130.58 648.88 L133.02 644.4 L135.45 639.9 L137.89 635.39 L140.33 630.86 L142.76 626.32 L145.2 621.76 L147.63 617.18 L150.07 612.59 L152.5 607.97 L154.94 603.34 L157.37 598.68 L159.81 594.01 L162.25 589.31 L164.68 584.59 L167.12 579.84 L169.55 575.07 L171.99 570.27 L174.42 565.45 L176.86 560.6 L179.29 555.72 L181.73 550.81 L184.17 545.87 L186.6 540.91 L189.04 535.9 L191.47 530.87 L193.91 525.8 L196.34 520.7 L198.78 515.57 L201.22 510.39 L203.65 505.19 L206.09 499.94 L208.52 494.65 L210.96 489.33 L213.39 483.96 L215.83 478.56 L218.26 473.11 L220.7 467.62" fill="none" stroke="#0072B5" stroke-width="1.25" stroke-linejoin="round" stroke-linecap="butt" />
<path d="M61.9 703.78 L66 700.33 L70.11 696.9 L74.21 693.48 L78.31 690.07 L82.42 686.67 L86.52 683.28 L90.62 679.88 L94.73 676.49 L98.83 673.1 L102.93 669.7 L107.04 666.3 L111.14 662.9 L115.24 659.49 L119.35 656.06 L123.45 652.63 L127.55 649.17 L131.66 645.71 L135.76 642.22 L139.86 638.72 L143.97 635.19 L148.07 631.64 L152.17 628.06 L156.28 624.45 L160.38 620.82 L164.48 617.15 L168.59 613.44 L172.69 609.71 L176.79 605.93 L180.9 602.11 L185 598.25 L189.11 594.35 L193.21 590.4 L197.31 586.4 L201.42 582.36 L205.52 578.26 L209.62 574.1 L213.73 569.89 L217.83 565.62 L221.93 561.27 L226.04 556.85 L230.14 552.35 L234.24 547.76 L238.35 543.08 L242.45 538.3 L246.55 533.42 L250.66 528.43 L254.76 523.32 L258.86 518.09 L262.97 512.74 L267.07 507.26 L271.17 501.63 L275.28 495.87 L279.38 489.96 L283.48 483.89 L287.59 477.66 L291.69 471.27 L295.79 464.71 L299.9 457.97 L304 451.05" fill="none" stroke="#E18727" stroke-width="1.25" stroke-linejoin="round" stroke-linecap="butt" />
<path d="M53.2 673.07 C53.95 672.68 56.19 671.5 57.69 670.7 C59.18 669.91 60.68 669.12 62.18 668.33 C63.67 667.53 65.17 666.74 66.66 665.94 C68.16 665.15 69.66 664.35 71.15 663.55 C72.65 662.75 74.14 661.95 75.64 661.15 C77.14 660.34 78.63 659.54 80.13 658.73 C81.62 657.93 83.12 657.12 84.62 656.31 C86.11 655.5 87.61 654.69 89.11 653.88 C90.6 653.07 92.1 652.25 93.59 651.43 C95.09 650.62 96.59 649.8 98.08 648.98 C99.58 648.16 101.07 647.33 102.57 646.51 C104.07 645.69 105.56 644.86 107.06 644.03 C108.55 643.2 110.05 642.37 111.55 641.54 C113.04 640.7 114.54 639.87 116.03 639.03 C117.53 638.19 119.03 637.35 120.52 636.51 C122.02 635.67 123.51 634.82 125.01 633.98 C126.51 633.13 128 632.28 129.5 631.43 C130.99 630.57 132.49 629.72 133.99 628.86 C135.48 628 136.98 627.14 138.47 626.28 C139.97 625.42 141.47 624.55 142.96 623.69 C144.46 622.82 145.95 621.95 147.45 621.07 C148.95 620.2 150.44 619.32 151.94 618.44 C153.44 617.56 154.93 616.68 156.43 615.8 C157.92 614.91 159.42 614.02 160.92 613.13 C162.41 612.24 163.91 611.35 165.4 610.45 C166.9 609.55 168.4 608.65 169.89 607.75 C171.39 606.84 172.88 605.94 174.38 605.03 C175.88 604.12 177.37 603.2 178.87 602.29 C180.36 601.37 181.86 600.45 183.36 599.53 C184.85 598.6 186.35 597.68 187.84 596.75 C189.34 595.82 190.84 594.88 192.33 593.94 C193.83 593.01 195.32 592.07 196.82 591.12 C198.32 590.18 199.81 589.23 201.31 588.28 C202.8 587.32 204.3 586.37 205.8 585.41 C207.29 584.45 208.79 583.49 210.28 582.52 C211.78 581.55 213.28 580.58 214.77 579.6 C216.27 578.63 217.76 577.65 219.26 576.67 C220.76 575.68 222.25 574.7 223.75 573.71 C225.25 572.71 226.74 571.72 228.24 570.72 C229.73 569.71 231.23 568.71 232.73 567.69 C234.22 566.67 235.72 565.64 237.21 564.6 C238.71 563.56 240.21 562.51 241.7 561.44 C243.2 560.36 244.69 559.28 246.19 558.18 C247.69 557.07 249.18 555.95 250.68 554.8 C252.17 553.66 253.67 552.49 255.17 551.3 C256.66 550.11 258.16 548.89 259.65 547.65 C261.15 546.4 262.65 545.13 264.14 543.82 C265.64 542.52 267.13 541.19 268.63 539.82 C270.13 538.45 271.62 537.05 273.12 535.61 C274.61 534.17 276.11 532.7 277.61 531.18 C279.1 529.66 280.6 528.11 282.09 526.51 C283.59 524.91 285.09 523.27 286.58 521.58 C288.08 519.89 289.58 518.16 291.07 516.38 C292.57 514.59 294.06 512.76 295.56 510.88 C297.06 508.99 298.55 507.06 300.05 505.07 C301.54 503.08 303.04 501.04 304.54 498.93 C306.03 496.83 307.53 494.67 309.02 492.45 C310.52 490.22 312.02 487.94 313.51 485.59 C315.01 483.24 316.9 481.56 318 478.36 C319.1 475.16 319.58 469.76 320.1 466.4 C320.62 463.04 320.73 460.67 321.1 458.2 C321.47 455.73 321.95 453.63 322.3 451.6 C322.65 449.57 323.05 446.93 323.2 446" fill="none" stroke="#20854E" stroke-width="1.25" stroke-linejoin="round" />
</g>
<rect x="199.2" y="669.8" width="132" height="68.1" rx="2" fill="#fff" fill-opacity="0.85" stroke="#d5d5d5" stroke-width="0.8"/>
<path d="M202.7 677.5 H222.8" stroke="#111" stroke-width="1.25" stroke-dasharray="1.2 2.3"/>
<g fill="#1c1c1c" stroke="#1c1c1c" stroke-width="0.3" font-size="9.9"><text x="240.29 245.41 259.96 265.09 289.34 294.19 303.34 313.31" y="680.8">rftllirt</text><text transform="translate(229.93,680.8) scale(0.698,1)">P</text><text transform="translate(234.78,680.8) scale(0.837,1)">e</text><text transform="translate(249.33,680.8) scale(0.837,1)">e</text><text transform="translate(254.18,680.8) scale(0.931,1)">c</text><text transform="translate(268.73,680.8) scale(0.931,1)">y</text><text transform="translate(278.43,680.8) scale(0.644,1)">C</text><text transform="translate(283.28,680.8) scale(0.837,1)">a</text><text transform="translate(297.83,680.8) scale(0.837,1)">b</text><text transform="translate(307.53,680.8) scale(0.837,1)">a</text><text transform="translate(317.23,680.8) scale(0.837,1)">e</text><text transform="translate(322.08,680.8) scale(0.837,1)">d</text></g>
<path d="M202.7 690.62 H222.8" stroke="#BC3C29" stroke-width="1.25" />
<g fill="#1c1c1c" stroke="#1c1c1c" stroke-width="0.3" font-size="9.9"><text x="260.37 269.8 278.71 298.9" y="693.92">t(.)</text><text transform="translate(230.34,693.92) scale(0.698,1)">X</text><text transform="translate(235.19,693.92) scale(0.598,1)">G</text><text transform="translate(240.04,693.92) scale(0.698,1)">B</text><text transform="translate(244.89,693.92) scale(0.837,1)">o</text><text transform="translate(249.74,693.92) scale(0.837,1)">o</text><text transform="translate(254.59,693.92) scale(0.931,1)">s</text><text transform="translate(273.99,693.92) scale(0.837,1)">0</text><text transform="translate(283.69,693.92) scale(0.837,1)">0</text><text transform="translate(288.54,693.92) scale(0.837,1)">4</text><text transform="translate(293.39,693.92) scale(0.837,1)">4</text></g>
<path d="M202.7 703.74 H222.8" stroke="#0072B5" stroke-width="1.25" />
<g fill="#1c1c1c" stroke="#1c1c1c" stroke-width="0.3" font-size="9.9"><text x="269.43 284.26 293.68 302.59 322.78" y="707.04">rt(.)</text><text transform="translate(229.98,707.04) scale(0.644,1)">R</text><text transform="translate(234.83,707.04) scale(0.837,1)">a</text><text transform="translate(239.68,707.04) scale(0.837,1)">n</text><text transform="translate(244.53,707.04) scale(0.837,1)">d</text><text transform="translate(249.38,707.04) scale(0.837,1)">o</text><text transform="translate(254.23,707.04) scale(0.559,1)">m</text><text transform="translate(259.08,707.04) scale(0.762,1)">F</text><text transform="translate(263.93,707.04) scale(0.837,1)">o</text><text transform="translate(273.63,707.04) scale(0.837,1)">e</text><text transform="translate(278.48,707.04) scale(0.931,1)">s</text><text transform="translate(297.88,707.04) scale(0.837,1)">0</text><text transform="translate(307.58,707.04) scale(0.837,1)">0</text><text transform="translate(312.43,707.04) scale(0.837,1)">5</text><text transform="translate(317.28,707.04) scale(0.837,1)">6</text></g>
<path d="M202.7 716.86 H222.8" stroke="#E18727" stroke-width="1.25" />
<g fill="#1c1c1c" stroke="#1c1c1c" stroke-width="0.3" font-size="9.9"><text x="250.24 259.15 279.34" y="720.16">(.)</text><text transform="translate(230.19,720.16) scale(0.698,1)">S</text><text transform="translate(235.04,720.16) scale(0.698,1)">V</text><text transform="translate(239.89,720.16) scale(0.559,1)">M</text><text transform="translate(254.44,720.16) scale(0.837,1)">0</text><text transform="translate(264.14,720.16) scale(0.837,1)">0</text><text transform="translate(268.99,720.16) scale(0.837,1)">4</text><text transform="translate(273.84,720.16) scale(0.837,1)">9</text></g>
<path d="M202.7 729.98 H222.8" stroke="#20854E" stroke-width="1.25" />
<g fill="#1c1c1c" stroke="#1c1c1c" stroke-width="0.3" font-size="9.9"><text x="249.99 258.89 279.09" y="733.28">(.)</text><text transform="translate(229.93,733.28) scale(0.698,1)">K</text><text transform="translate(234.78,733.28) scale(0.644,1)">N</text><text transform="translate(239.63,733.28) scale(0.644,1)">N</text><text transform="translate(254.18,733.28) scale(0.837,1)">0</text><text transform="translate(263.88,733.28) scale(0.837,1)">0</text><text transform="translate(268.73,733.28) scale(0.837,1)">3</text><text transform="translate(273.58,733.28) scale(0.837,1)">9</text></g>
<rect x="39.7" y="451.2" width="297.2" height="292" fill="none" stroke="#2b2b2b" stroke-width="1.1"/>
<path d="M53.1 743.2 V748.5" stroke="#333" stroke-width="1"/>
<path d="M39.7 730.3 H34.4" stroke="#333" stroke-width="1"/>
<g fill="#1c1c1c" stroke="#1c1c1c" stroke-width="0.3" font-size="9.9"><text x="21.63" y="733.5">.</text><text transform="translate(16.92,733.5) scale(0.837,1)">0</text><text transform="translate(26.62,733.5) scale(0.837,1)">0</text></g>
<g fill="#1c1c1c" stroke="#1c1c1c" stroke-width="0.3" font-size="9.9"><text x="50.66" y="758.1">.</text><text transform="translate(45.95,758.1) scale(0.837,1)">0</text><text transform="translate(55.65,758.1) scale(0.837,1)">0</text></g>
<path d="M107.1 743.2 V748.5" stroke="#333" stroke-width="1"/>
<path d="M39.7 677.06 H34.4" stroke="#333" stroke-width="1"/>
<g fill="#1c1c1c" stroke="#1c1c1c" stroke-width="0.3" font-size="9.9"><text x="21.72" y="680.26">.</text><text transform="translate(17.01,680.26) scale(0.837,1)">0</text><text transform="translate(26.71,680.26) scale(0.837,1)">2</text></g>
<g fill="#1c1c1c" stroke="#1c1c1c" stroke-width="0.3" font-size="9.9"><text x="104.7" y="758.1">.</text><text transform="translate(99.99,758.1) scale(0.837,1)">0</text><text transform="translate(109.69,758.1) scale(0.837,1)">2</text></g>
<path d="M161.1 743.2 V748.5" stroke="#333" stroke-width="1"/>
<path d="M39.7 623.82 H34.4" stroke="#333" stroke-width="1"/>
<g fill="#1c1c1c" stroke="#1c1c1c" stroke-width="0.3" font-size="9.9"><text x="21.55" y="627.02">.</text><text transform="translate(16.84,627.02) scale(0.837,1)">0</text><text transform="translate(26.54,627.02) scale(0.837,1)">4</text></g>
<g fill="#1c1c1c" stroke="#1c1c1c" stroke-width="0.3" font-size="9.9"><text x="158.62" y="758.1">.</text><text transform="translate(153.91,758.1) scale(0.837,1)">0</text><text transform="translate(163.61,758.1) scale(0.837,1)">4</text></g>
<path d="M215.1 743.2 V748.5" stroke="#333" stroke-width="1"/>
<path d="M39.7 570.58 H34.4" stroke="#333" stroke-width="1"/>
<g fill="#1c1c1c" stroke="#1c1c1c" stroke-width="0.3" font-size="9.9"><text x="21.67" y="573.78">.</text><text transform="translate(16.96,573.78) scale(0.837,1)">0</text><text transform="translate(26.66,573.78) scale(0.837,1)">6</text></g>
<g fill="#1c1c1c" stroke="#1c1c1c" stroke-width="0.3" font-size="9.9"><text x="212.68" y="758.1">.</text><text transform="translate(207.97,758.1) scale(0.837,1)">0</text><text transform="translate(217.67,758.1) scale(0.837,1)">6</text></g>
<path d="M269.1 743.2 V748.5" stroke="#333" stroke-width="1"/>
<path d="M39.7 517.34 H34.4" stroke="#333" stroke-width="1"/>
<g fill="#1c1c1c" stroke="#1c1c1c" stroke-width="0.3" font-size="9.9"><text x="21.66" y="520.54">.</text><text transform="translate(16.95,520.54) scale(0.837,1)">0</text><text transform="translate(26.65,520.54) scale(0.837,1)">8</text></g>
<g fill="#1c1c1c" stroke="#1c1c1c" stroke-width="0.3" font-size="9.9"><text x="266.68" y="758.1">.</text><text transform="translate(261.96,758.1) scale(0.837,1)">0</text><text transform="translate(271.66,758.1) scale(0.837,1)">8</text></g>
<path d="M323.1 743.2 V748.5" stroke="#333" stroke-width="1"/>
<path d="M39.7 464.1 H34.4" stroke="#333" stroke-width="1"/>
<g fill="#1c1c1c" stroke="#1c1c1c" stroke-width="0.3" font-size="9.9"><text x="21.63" y="467.3">.</text><text transform="translate(16.92,467.3) scale(0.837,1)">1</text><text transform="translate(26.62,467.3) scale(0.837,1)">0</text></g>
<g fill="#1c1c1c" stroke="#1c1c1c" stroke-width="0.3" font-size="9.9"><text x="320.5" y="758.1">.</text><text transform="translate(315.79,758.1) scale(0.837,1)">1</text><text transform="translate(325.49,758.1) scale(0.837,1)">0</text></g>
<g fill="#1c1c1c" stroke="#1c1c1c" stroke-width="0.32" font-size="10.5"><text x="98.37 103.7 113.78 124.73 130.35 157.01 167.37 188.41 193.74 204.98 210.31 226.3 231.63 236.96 242 268.36 284.35" y="445.6">lirtilt(rliilitr)</text><text transform="translate(86.34,445.6) scale(0.668,1)">C</text><text transform="translate(91.67,445.6) scale(0.867,1)">a</text><text transform="translate(107.67,445.6) scale(0.867,1)">b</text><text transform="translate(118.33,445.6) scale(0.867,1)">a</text><text transform="translate(134.32,445.6) scale(0.867,1)">o</text><text transform="translate(139.65,445.6) scale(0.867,1)">n</text><text transform="translate(150.31,445.6) scale(0.867,1)">p</text><text transform="translate(160.97,445.6) scale(0.867,1)">o</text><text transform="translate(171.63,445.6) scale(0.965,1)">s</text><text transform="translate(198.28,445.6) scale(0.867,1)">e</text><text transform="translate(214.27,445.6) scale(0.867,1)">a</text><text transform="translate(219.61,445.6) scale(0.867,1)">b</text><text transform="translate(246.26,445.6) scale(0.965,1)">y</text><text transform="translate(256.92,445.6) scale(0.965,1)">c</text><text transform="translate(262.25,445.6) scale(0.867,1)">u</text><text transform="translate(272.91,445.6) scale(0.965,1)">v</text><text transform="translate(278.24,445.6) scale(0.867,1)">e</text></g>
<g fill="#1c1c1c" stroke="#1c1c1c" stroke-width="0.32" font-size="10.5"><text x="167.41 184.1 194.55 227.05" y="770.8">ritl</text><text transform="translate(134.4,770.8) scale(0.583,1)">M</text><text transform="translate(139.77,770.8) scale(0.873,1)">e</text><text transform="translate(145.14,770.8) scale(0.873,1)">a</text><text transform="translate(150.5,770.8) scale(0.873,1)">n</text><text transform="translate(161.24,770.8) scale(0.873,1)">p</text><text transform="translate(171.98,770.8) scale(0.873,1)">e</text><text transform="translate(177.35,770.8) scale(0.873,1)">d</text><text transform="translate(188.09,770.8) scale(0.972,1)">c</text><text transform="translate(198.82,770.8) scale(0.873,1)">e</text><text transform="translate(204.19,770.8) scale(0.873,1)">d</text><text transform="translate(214.93,770.8) scale(0.972,1)">v</text><text transform="translate(220.3,770.8) scale(0.873,1)">a</text><text transform="translate(231.04,770.8) scale(0.873,1)">u</text><text transform="translate(236.41,770.8) scale(0.873,1)">e</text></g>
<g transform="translate(11.3,0) rotate(-90)" fill="#1c1c1c" stroke="#1c1c1c" stroke-width="0.32" font-size="10.5"><text x="-648.24 -631.89 -626.24 -599.77 -572.71 -567.65 -562" y="0">rtifiti</text><text transform="translate(-654.38,0) scale(0.793,1)">F</text><text transform="translate(-643.68,0) scale(0.871,1)">a</text><text transform="translate(-638.32,0) scale(0.969,1)">c</text><text transform="translate(-622.26,0) scale(0.871,1)">o</text><text transform="translate(-616.91,0) scale(0.871,1)">n</text><text transform="translate(-606.2,0) scale(0.871,1)">o</text><text transform="translate(-590.14,0) scale(0.871,1)">p</text><text transform="translate(-584.79,0) scale(0.871,1)">o</text><text transform="translate(-579.44,0) scale(0.969,1)">s</text><text transform="translate(-558.02,0) scale(0.969,1)">v</text><text transform="translate(-552.67,0) scale(0.871,1)">e</text><text transform="translate(-547.32,0) scale(0.969,1)">s</text></g>
<text transform="translate(363.16,428.75) scale(1.083,0.988)" font-family='"Liberation Serif", serif' font-size="34.5" fill="#000" stroke="#fff" stroke-width="0.5" paint-order="fill">(</text>
<text transform="translate(378.39,430.93) scale(1.020,0.971)" font-family='"Liberation Serif", serif' font-size="34.5" fill="#000" stroke="#fff" stroke-width="0.5" paint-order="fill">D</text>
<text transform="translate(406.15,428.75) scale(1.038,0.988)" font-family='"Liberation Serif", serif' font-size="34.5" fill="#000" stroke="#fff" stroke-width="0.5" paint-order="fill">)</text>
<clipPath id="cd"><rect x="390.8" y="450.1" width="291.4" height="291.3"/></clipPath>
<g clip-path="url(#cd)">
<path d="M403.7 531.4 H667.47" stroke="#ff0000" stroke-width="1.25" stroke-dasharray="1.25 2.15" fill="none"/>
<path d="M403.7 457 L407.8 462 L413.7 466.7 L418.4 470.2 L421.3 471.9 L425.4 473.7 L429.4 476 L431.2 477.2 L435.9 478.4 L440 479.3 L445.8 480.8 L450.5 481.7 L454 482 L456.9 482.6 L462.2 485.5 L466.9 486.9 L472.7 488.1 L480 489.3 L484.2 491.5 L501.7 493.3 L509.9 495 L516.9 494.5 L525.1 496.2 L535 498.3 L541.7 500.1 L551 501.3 L559.2 502.7 L565 503.9 L570.9 505 L576.7 506.2 L579 504.8 L582.6 506.2 L588.4 509.7 L594.2 511.5 L600 514.5 L605.8 518 L609.3 518.5 L614 522 L618.7 524.4 L623.4 530.2 L629.2 537.2 L632.7 539.6 L635 543.6 L637.4 548.9 L640.3 547.7 L643.2 552.4 L645.3 559.5 L647.5 558 L650.9 569.3 L654.1 584.8 L655.4 596.4 L658.6 598.9 L660.6 614.4 L662.5 632.4 L663.8 648.1 L665 667.1 L666.3 702.3" fill="none" stroke="#BC3C29" stroke-width="1.6" stroke-linejoin="round" stroke-linecap="butt" stroke-opacity="0.78"/>
<path d="M403.7 457 L409.6 466.7 L412.5 468.4 L415.4 470.8 L417.8 473.1 L419.5 475.4 L422.4 475.7 L424.2 477.2 L426.5 478.9 L430 480.1 L433.5 481.3 L437 483 L440 483.1 L443.5 485.2 L447.6 487.2 L451.7 489.3 L459.3 488.4 L463.4 490.1 L468 492.2 L472.7 495.1 L477.4 497.7 L480 498 L481.9 498 L486.5 500.9 L488.9 500.6 L495.9 505 L499.4 503.4 L506.4 507.3 L511.1 508.5 L514.6 507.9 L518.1 511.4 L526.2 516.1 L530.9 519 L534.7 518.8 L541.7 520.2 L547.5 522 L551 523.7 L556.9 525.5 L565 527 L570.9 528.2 L579 529 L581.4 531.3 L667.2 531.3" fill="none" stroke="#0072B5" stroke-width="1.6" stroke-linejoin="round" stroke-linecap="butt" stroke-opacity="0.78"/>
<path d="M403.7 457 L407.8 462 L413.7 466.7 L418.4 470.2 L421.3 471.9 L425.4 473.7 L429.4 476 L432.4 478.9 L434.7 479.8 L438.2 479.5 L440 479.9 L445.8 482.3 L451.1 485.2 L457.5 485.8 L463.4 486.4 L469.2 487.5 L475 489 L480 490.4 L490 492.1 L501.7 493.9 L507.6 496.2 L513.4 496.8 L525.1 499.7 L530 500.6 L539.3 501.5 L545.2 503.3 L551 506.2 L556.9 506.8 L561.5 506.8 L568.5 509.7 L574.4 514.4 L580.2 516.7 L586.1 518.8 L591.9 519.6 L597.7 523.1 L600 523.4 L604.7 525 L612.8 530.8 L616.4 529.6 L618.7 531.4 L622.2 530.2 L625.7 532.6 L630.4 537.2 L635 543.1 L639.7 537.2 L645 543.6 L649.1 534.9 L653.1 528.5 L658.4 529.6 L663.1 531.4 L667.2 531.4" fill="none" stroke="#E18727" stroke-width="1.6" stroke-linejoin="round" stroke-linecap="butt" stroke-opacity="0.78"/>
<path d="M403.5 468.7 L413.7 470.8 L425.4 473.7 L440 476.7 L454 480.5 L456.9 483.7 L463.4 484.6 L480 486.4 L507 490.4 L509.9 494.5 L530 495.5 L560.4 498.3 L562.7 507.1 L600 510.6 L613.4 513.3 L615.8 523.8 L623.4 526.1 L630.4 528.5 L637.4 532 L643.2 536.1 L649.1 543.6 L652.4 550 L656.1 560 L657.8 566.5 L660.6 582.2 L662.5 601.5 L663.8 620.8 L664.4 640.1 L665 667.1 L665.6 707.7 L666.3 741 L666.5 760" fill="none" stroke="#20854E" stroke-width="1.6" stroke-linejoin="round" stroke-linecap="butt" stroke-opacity="0.78"/>
<path d="M403.7 456.74 L405.5 459.93 L407.29 463.15 L409.09 466.42 L410.89 469.74 L412.69 473.1 L414.48 476.52 L416.28 479.98 L418.08 483.49 L419.88 487.05 L421.67 490.66 L423.47 494.32 L425.27 498.04 L427.06 501.82 L428.86 505.65 L430.66 509.54 L432.46 513.48 L434.25 517.49 L436.05 521.56 L437.85 525.7 L439.65 529.89 L441.44 534.16 L443.24 538.49 L445.04 542.89 L446.83 547.37 L448.63 551.91 L450.43 556.54 L452.23 561.23 L454.02 566.01 L455.82 570.87 L457.62 575.81 L459.42 580.83 L461.21 585.94 L463.01 591.15 L464.81 596.44 L466.61 601.83 L468.4 607.31 L470.2 612.89 L472 618.58 L473.79 624.37 L475.59 630.26 L477.39 636.27 L479.19 642.39 L480.98 648.63 L482.78 654.99 L484.58 661.48 L486.38 668.09 L488.17 674.83 L489.97 681.71 L491.77 688.73 L493.56 695.89 L495.36 703.2 L497.16 710.67 L498.96 718.29 L500.75 726.07 L502.55 734.03 L504.35 742.15 L506.15 750.46 L507.94 758.95 L509.74 767.64" fill="none" stroke="#000" stroke-width="1.6" stroke-linejoin="round" stroke-linecap="butt" stroke-dasharray="4.9 2.0"/>
</g>
<rect x="490.8" y="555.6" width="91.5" height="79.5" rx="2" fill="#fff" fill-opacity="0.85" stroke="#d5d5d5" stroke-width="0.8"/>
<path d="M494 563.2 H514" stroke="#BC3C29" stroke-width="1.6" stroke-opacity="0.78"/>
<g fill="#1c1c1c" stroke="#1c1c1c" stroke-width="0.3" font-size="9.9"><text x="551.27" y="566.5">t</text><text transform="translate(521.24,566.5) scale(0.698,1)">X</text><text transform="translate(526.09,566.5) scale(0.598,1)">G</text><text transform="translate(530.94,566.5) scale(0.698,1)">B</text><text transform="translate(535.79,566.5) scale(0.837,1)">o</text><text transform="translate(540.64,566.5) scale(0.837,1)">o</text><text transform="translate(545.49,566.5) scale(0.931,1)">s</text></g>
<path d="M494 576.1 H514" stroke="#0072B5" stroke-width="1.6" stroke-opacity="0.78"/>
<g fill="#1c1c1c" stroke="#1c1c1c" stroke-width="0.3" font-size="9.9"><text x="560.33 575.16" y="579.4">rt</text><text transform="translate(520.88,579.4) scale(0.644,1)">R</text><text transform="translate(525.73,579.4) scale(0.837,1)">a</text><text transform="translate(530.58,579.4) scale(0.837,1)">n</text><text transform="translate(535.43,579.4) scale(0.837,1)">d</text><text transform="translate(540.28,579.4) scale(0.837,1)">o</text><text transform="translate(545.13,579.4) scale(0.559,1)">m</text><text transform="translate(549.98,579.4) scale(0.762,1)">F</text><text transform="translate(554.83,579.4) scale(0.837,1)">o</text><text transform="translate(564.53,579.4) scale(0.837,1)">e</text><text transform="translate(569.38,579.4) scale(0.931,1)">s</text></g>
<path d="M494 589 H514" stroke="#E18727" stroke-width="1.6" stroke-opacity="0.78"/>
<g fill="#1c1c1c" stroke="#1c1c1c" stroke-width="0.3" font-size="9.9"><text transform="translate(521.09,592.3) scale(0.698,1)">S</text><text transform="translate(525.94,592.3) scale(0.698,1)">V</text><text transform="translate(530.79,592.3) scale(0.559,1)">M</text></g>
<path d="M494 601.9 H514" stroke="#20854E" stroke-width="1.6" stroke-opacity="0.78"/>
<g fill="#1c1c1c" stroke="#1c1c1c" stroke-width="0.3" font-size="9.9"><text transform="translate(520.83,605.2) scale(0.698,1)">K</text><text transform="translate(525.68,605.2) scale(0.644,1)">N</text><text transform="translate(530.53,605.2) scale(0.644,1)">N</text></g>
<path d="M494 614.8 H514" stroke="#000" stroke-width="1.6" stroke-dasharray="4.9 2.0"/>
<g fill="#1c1c1c" stroke="#1c1c1c" stroke-width="0.3" font-size="9.9"><text x="526.74 541.56 556.38 561.23" y="618.1">rtll</text><text transform="translate(521.23,618.1) scale(0.762,1)">T</text><text transform="translate(530.93,618.1) scale(0.837,1)">e</text><text transform="translate(535.78,618.1) scale(0.837,1)">a</text><text transform="translate(550.33,618.1) scale(0.698,1)">A</text></g>
<path d="M494 627.7 H514" stroke="#ff0000" stroke-width="1.3" stroke-dasharray="1.3 2.2"/>
<g fill="#1c1c1c" stroke="#1c1c1c" stroke-width="0.3" font-size="9.9"><text x="526.74 541.56" y="631">rt</text><text transform="translate(521.23,631) scale(0.762,1)">T</text><text transform="translate(530.93,631) scale(0.837,1)">e</text><text transform="translate(535.78,631) scale(0.837,1)">a</text><text transform="translate(550.33,631) scale(0.644,1)">N</text><text transform="translate(555.18,631) scale(0.837,1)">o</text><text transform="translate(560.03,631) scale(0.837,1)">n</text><text transform="translate(564.88,631) scale(0.837,1)">e</text></g>
<rect x="390.8" y="450.1" width="291.4" height="291.3" fill="none" stroke="#2b2b2b" stroke-width="1.1"/>
<path d="M403.7 741.4 V746.7" stroke="#333" stroke-width="1"/>
<g fill="#1c1c1c" stroke="#1c1c1c" stroke-width="0.3" font-size="9.9"><text transform="translate(401.4,757.1) scale(0.837,1)">0</text></g>
<path d="M456.72 741.4 V746.7" stroke="#333" stroke-width="1"/>
<g fill="#1c1c1c" stroke="#1c1c1c" stroke-width="0.3" font-size="9.9"><text transform="translate(451.94,757.1) scale(0.837,1)">2</text><text transform="translate(456.79,757.1) scale(0.837,1)">0</text></g>
<path d="M509.74 741.4 V746.7" stroke="#333" stroke-width="1"/>
<g fill="#1c1c1c" stroke="#1c1c1c" stroke-width="0.3" font-size="9.9"><text transform="translate(505.08,757.1) scale(0.837,1)">4</text><text transform="translate(509.93,757.1) scale(0.837,1)">0</text></g>
<path d="M562.76 741.4 V746.7" stroke="#333" stroke-width="1"/>
<g fill="#1c1c1c" stroke="#1c1c1c" stroke-width="0.3" font-size="9.9"><text transform="translate(557.98,757.1) scale(0.837,1)">6</text><text transform="translate(562.83,757.1) scale(0.837,1)">0</text></g>
<path d="M615.78 741.4 V746.7" stroke="#333" stroke-width="1"/>
<g fill="#1c1c1c" stroke="#1c1c1c" stroke-width="0.3" font-size="9.9"><text transform="translate(611.03,757.1) scale(0.837,1)">8</text><text transform="translate(615.88,757.1) scale(0.837,1)">0</text></g>
<path d="M668.8 741.4 V746.7" stroke="#333" stroke-width="1"/>
<g fill="#1c1c1c" stroke="#1c1c1c" stroke-width="0.3" font-size="9.9"><text transform="translate(661.49,757.1) scale(0.837,1)">1</text><text transform="translate(666.34,757.1) scale(0.837,1)">0</text><text transform="translate(671.19,757.1) scale(0.837,1)">0</text></g>
<path d="M390.8 477.3 H385.5" stroke="#333" stroke-width="1"/>
<g fill="#1c1c1c" stroke="#1c1c1c" stroke-width="0.3" font-size="9.9"><text x="372.01" y="480.6">.</text><text transform="translate(367.3,480.6) scale(0.837,1)">0</text><text transform="translate(377,480.6) scale(0.837,1)">1</text></g>
<path d="M390.8 531.4 H385.5" stroke="#333" stroke-width="1"/>
<g fill="#1c1c1c" stroke="#1c1c1c" stroke-width="0.3" font-size="9.9"><text x="371.93" y="534.7">.</text><text transform="translate(367.22,534.7) scale(0.837,1)">0</text><text transform="translate(376.92,534.7) scale(0.837,1)">0</text></g>
<path d="M390.8 585.5 H385.5" stroke="#333" stroke-width="1"/>
<g fill="#1c1c1c" stroke="#1c1c1c" stroke-width="0.3" font-size="9.9"><text x="372.01" y="588.8">.</text><text transform="translate(362.45,588.8) scale(0.797,1)">−</text><text transform="translate(367.3,588.8) scale(0.837,1)">0</text><text transform="translate(377,588.8) scale(0.837,1)">1</text></g>
<path d="M390.8 639.6 H385.5" stroke="#333" stroke-width="1"/>
<g fill="#1c1c1c" stroke="#1c1c1c" stroke-width="0.3" font-size="9.9"><text x="372.02" y="642.9">.</text><text transform="translate(362.46,642.9) scale(0.797,1)">−</text><text transform="translate(367.31,642.9) scale(0.837,1)">0</text><text transform="translate(377.01,642.9) scale(0.837,1)">2</text></g>
<path d="M390.8 693.7 H385.5" stroke="#333" stroke-width="1"/>
<g fill="#1c1c1c" stroke="#1c1c1c" stroke-width="0.3" font-size="9.9"><text x="371.97" y="697">.</text><text transform="translate(362.41,697) scale(0.797,1)">−</text><text transform="translate(367.26,697) scale(0.837,1)">0</text><text transform="translate(376.96,697) scale(0.837,1)">3</text></g>
<g fill="#1c1c1c" stroke="#1c1c1c" stroke-width="0.32" font-size="10.5"><text x="496.01 501.26 532.79 543.3 574.25" y="444.5">liiir</text><text transform="translate(484.17,444.5) scale(0.713,1)">V</text><text transform="translate(489.42,444.5) scale(0.855,1)">a</text><text transform="translate(505.19,444.5) scale(0.855,1)">d</text><text transform="translate(515.7,444.5) scale(0.658,1)">D</text><text transform="translate(520.95,444.5) scale(0.855,1)">e</text><text transform="translate(526.2,444.5) scale(0.951,1)">c</text><text transform="translate(536.71,444.5) scale(0.951,1)">s</text><text transform="translate(547.22,444.5) scale(0.855,1)">o</text><text transform="translate(552.48,444.5) scale(0.855,1)">n</text><text transform="translate(562.99,444.5) scale(0.658,1)">C</text><text transform="translate(568.24,444.5) scale(0.855,1)">u</text><text transform="translate(578.75,444.5) scale(0.951,1)">v</text><text transform="translate(584.01,444.5) scale(0.855,1)">e</text></g>
<g fill="#1c1c1c" stroke="#1c1c1c" stroke-width="0.32" font-size="10.5"><text x="485.3 511.8 531.95 558.45 563.64 568.82 573.71 583.79 594.15" y="770.6">rlrilit()</text><text transform="translate(474.22,770.6) scale(0.768,1)">T</text><text transform="translate(479.4,770.6) scale(0.843,1)">h</text><text transform="translate(489.77,770.6) scale(0.843,1)">e</text><text transform="translate(494.95,770.6) scale(0.938,1)">s</text><text transform="translate(500.14,770.6) scale(0.843,1)">h</text><text transform="translate(505.32,770.6) scale(0.843,1)">o</text><text transform="translate(515.69,770.6) scale(0.843,1)">d</text><text transform="translate(526.05,770.6) scale(0.703,1)">P</text><text transform="translate(536.42,770.6) scale(0.843,1)">o</text><text transform="translate(541.61,770.6) scale(0.843,1)">b</text><text transform="translate(546.79,770.6) scale(0.843,1)">a</text><text transform="translate(551.97,770.6) scale(0.843,1)">b</text><text transform="translate(577.89,770.6) scale(0.938,1)">y</text><text transform="translate(588.26,770.6) scale(0.527,1)">%</text></g>
<g transform="translate(357.3,0) rotate(-90)" fill="#1c1c1c" stroke="#1c1c1c" stroke-width="0.32" font-size="10.5"><text x="-599.95 -567.84 -562.2 -557.14" y="0">tfit</text><text transform="translate(-638.5,0) scale(0.581,1)">M</text><text transform="translate(-633.15,0) scale(0.871,1)">e</text><text transform="translate(-627.8,0) scale(0.871,1)">a</text><text transform="translate(-622.45,0) scale(0.871,1)">n</text><text transform="translate(-611.74,0) scale(0.670,1)">N</text><text transform="translate(-606.39,0) scale(0.871,1)">e</text><text transform="translate(-590.33,0) scale(0.726,1)">B</text><text transform="translate(-584.98,0) scale(0.871,1)">e</text><text transform="translate(-579.63,0) scale(0.871,1)">n</text><text transform="translate(-574.28,0) scale(0.871,1)">e</text></g>
</svg>
</body></html>
